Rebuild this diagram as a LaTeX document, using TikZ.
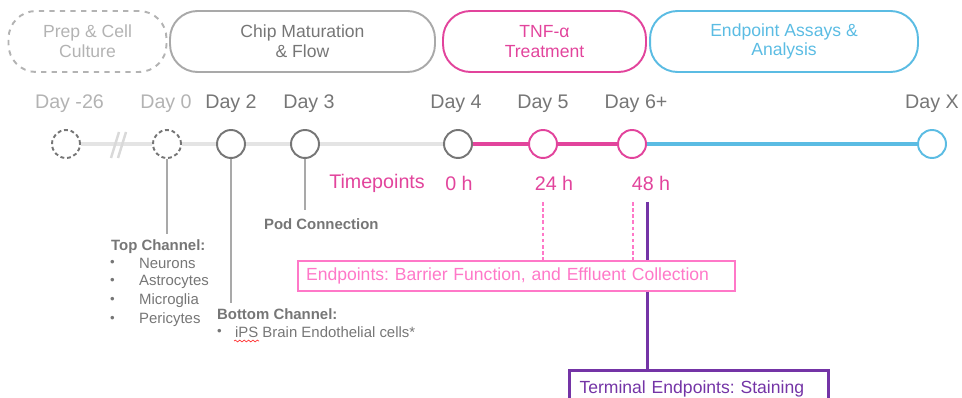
\documentclass[tikz,border=0pt]{standalone}
\usepackage{fontspec}
\setmainfont{Liberation Sans}
\usepackage{xcolor}
\usetikzlibrary{positioning,calc,decorations.pathmorphing}
\definecolor{palegray}{HTML}{B3B3B3}
\definecolor{midgray}{HTML}{767676}
\definecolor{boxgray}{HTML}{A9A9A9}
\definecolor{trackgray}{HTML}{E4E4E4}
\definecolor{tnfpink}{HTML}{E2449C}
\definecolor{assayblue}{HTML}{5BBCE3}
\definecolor{endpink}{HTML}{FF78C8}
\definecolor{termpurple}{HTML}{7434A6}
\frenchspacing
\tikzset{
  phase/.style={draw,rounded corners=0.55cm,line width=1.1pt,minimum height=1.22cm,
    align=center,font=\fontsize{10}{11.3}\selectfont},
  day/.style={circle,draw=midgray,fill=white,line width=1.1pt,minimum size=0.56cm,inner sep=0pt},
  fine/.style={dash pattern=on 2.2pt off 1.6pt},
  daylabel/.style={font=\fontsize{11.2}{13}\selectfont,text=midgray},
  hours/.style={font=\fontsize{11.2}{13}\selectfont,text=tnfpink},
  note/.style={font=\fontsize{8.5}{10}\selectfont,text=midgray,anchor=west,inner sep=1pt},
  dotnote/.style={note,font=\fontsize{7.5}{7.5}\selectfont},
  link/.style={draw=boxgray,line width=0.7pt},
  track/.style={line width=2.8pt},
  tdash/.style={endpink,line width=0.6pt,dash pattern=on 2pt off 1.5pt}
}

\begin{document}
\begin{tikzpicture}[x=0.02cm,y=-0.02cm]
  \useasboundingbox (0,0) rectangle (962,398);
  % phases
  \node[phase,dashed,draw=palegray,text=palegray,minimum width=3.16cm] (prep) at (87.5,41.5) {Prep \& Cell\\Culture};
  \node[phase,draw=boxgray,text=midgray,minimum width=5.3cm] (chip) at (302.5,41.5) {Chip Maturation\\\& Flow};
  \node[phase,draw=tnfpink,text=tnfpink,minimum width=4.06cm] (tnf) at (544.5,41.5) {TNF-α\\Treatment};
  \node[phase,draw=assayblue,text=assayblue,minimum width=5.36cm] (assay) at (784,41.5) {Endpoint Assays \&\\Analysis};

  % days on the timeline
  \node[day,fine] (d26) at (66,144) {};
  \node[day,fine] (d0) at (167,144) {};
  \node[day] (d2) at (231,144) {};
  \node[day] (d3) at (305,144) {};
  \node[day] (d4) at (458,144) {};
  \node[day,draw=tnfpink] (d5) at (543,144) {};
  \node[day,draw=tnfpink] (d6) at (632,144) {};
  \node[day,draw=assayblue] (dX) at (932,144) {};

  \node[daylabel,text=palegray] (l26) at (69.5,104) {Day -26};
  \node[daylabel,text=palegray] (l0) at (166,104) {Day 0};
  \node[daylabel] (l2) at (231,104) {Day 2};
  \node[daylabel] (l3) at (309,104) {Day 3};
  \node[daylabel] (l4) at (456,104) {Day 4};
  \node[daylabel] (l5) at (543,104) {Day 5};
  \node[daylabel] (l6) at (636,104) {Day 6+};
  \node[daylabel] (lX) at (932,104) {Day X};

  \draw[track,trackgray] (d26) -- (d0) -- (d2) -- (d3) -- (d4);
  \draw[track,tnfpink] (d4) -- (d5) -- (d6);
  \draw[track,assayblue] (d6) -- (dX);
  \draw[line width=1.4pt,black!15] (111,158) -- (119,132) (118,158) -- (126,132);

  % timepoints
  \node[hours] (tp) at (377,183) {Timepoints};
  \node[hours] (t0) at (459,183) {0 h};
  \node[hours] (t24) at (554,183) {24 h};
  \node[hours] (t48) at (651,183) {48 h};

  % channels
  \node[note] (pod) at (262,224) {\bfseries Pod Connection};
  \node[note] (topch) at (109,247) {\bfseries Top Channel:};
  \foreach \cell [count=\i] in {Neurons,Astrocytes,Microglia,Pericytes} {
    \node[note] (cell\i) at (137,{244.5+18.7*\i}) {\cell};
    \node[dotnote] (dot\i) at (108,{244.5+18.7*\i}) {\textbullet};
  }
  \node[note] (botch) at (215,314) {\bfseries Bottom Channel:};
  \node[dotnote] (dot5) at (215,332) {\textbullet};
  \node[note] (ipsc) at (233,332) {iPS Brain Endothelial cells*};
  \draw[red!80,line width=0.4pt,decorate,decoration={snake,amplitude=0.5pt,segment length=2.5pt}]
    (234,341) -- (259,341);

  \draw[link] (d0) -- ($(d0 |- topch.north)+(0,-4)$);
  \draw[link] (d2) -- ($(d2 |- botch.north)+(0,-3)$);
  \draw[link] (d3) -- ($(d3 |- pod.north)+(0,-6)$);

  % endpoints
  \node[draw=endpink,line width=0.8pt,text=endpink,font=\fontsize{10}{12}\selectfont,
    minimum height=0.6cm,inner xsep=0.16cm,text width=8.42cm,align=left] (endp) at (516.5,276)
    {Endpoints: Barrier Function, and Effluent Collection};
  \node[draw=termpurple,line width=1.7pt,text=termpurple,font=\fontsize{10}{12}\selectfont,
    anchor=north west,text width=4.78cm,inner xsep=0.2cm,inner ysep=0.2cm,align=left] (term) at (568,369)
    {Terminal Endpoints: Staining};

  \coordinate (tick24) at (543,202);
  \coordinate (tick6) at (633,202);
  \coordinate (tick48) at (647,202);
  \draw[tdash] (tick24) -- (tick24 |- endp.north);
  \draw[tdash] (tick6) -- (tick6 |- endp.north);
  \draw[termpurple,line width=1.7pt] (tick48) -- (tick48 |- endp.north);
  \draw[termpurple,line width=1.7pt] (tick48 |- endp.south) -- (tick48 |- term.north);
\end{tikzpicture}
\end{document}
